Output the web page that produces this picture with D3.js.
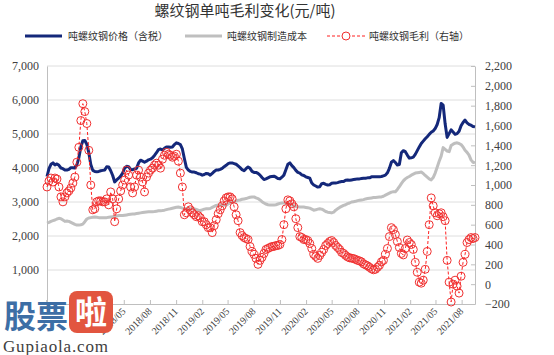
<!DOCTYPE html>
<html><head><meta charset="utf-8">
<script src="https://cdn.jsdelivr.net/npm/d3@7/dist/d3.min.js"></script>
<style>body{margin:0;background:#fff}svg{display:block}</style>
</head><body><svg id="c" width="554" height="355"></svg>
<script>
const title = "螺纹钢单吨毛利变化(元/吨)";
const seriesNames = ["吨螺纹钢价格（含税）", "吨螺纹钢制造成本", "吨螺纹钢毛利（右轴）"];
const startDate = "2017-08-04"; // weekly observations
const xTickDates = ["2017/08","2017/11","2018/02","2018/05","2018/08","2018/11","2019/02","2019/05","2019/08","2019/11","2020/02","2020/05","2020/08","2020/11","2021/02","2021/05","2021/08"];
const xTickLabels = ["2018/05","2018/08","2018/11","2019/02","2019/05","2019/08","2019/11","2020/02","2020/05","2020/08","2020/11","2021/02","2021/05","2021/08"];
const leftTicks = [1000,2000,3000,4000,5000,6000,7000];
const rightTicks = [-200,0,200,400,600,800,1000,1200,1400,1600,1800,2000,2200];

const price = [3750,3980,4110,4150,4090,4120,4080,4000,3980,3940,3940,3960,4010,4010,4000,4090,4300,4620,4800,4810,
4700,4450,4100,3930,3900,3890,3900,3920,3930,3940,4040,4030,3920,3780,3590,3650,3700,3760,3850,4000,
4050,4040,3960,3950,3970,3990,4150,4230,4200,4170,4200,4240,4260,4300,4370,4450,4540,4560,4530,4580,
4620,4620,4610,4620,4690,4740,4720,4690,4560,4280,4020,3940,3900,3880,3880,3860,3830,3820,3790,3810,
3840,3830,3790,3840,3900,3940,3940,3960,3990,4040,4080,4130,4150,4150,4130,4110,4060,4010,3950,3920,
3980,4030,3990,3900,3870,3870,3840,3790,3720,3660,3680,3710,3740,3750,3760,3730,3690,3680,3730,3790,
3950,4110,4150,4070,4010,3930,3870,3850,3800,3780,3740,3720,3700,3560,3500,3470,3440,3450,3540,3550,
3520,3500,3510,3550,3560,3560,3570,3590,3600,3600,3640,3650,3640,3650,3660,3670,3680,3680,3690,3700,
3700,3710,3710,3740,3740,3740,3740,3740,3750,3770,3790,3860,3990,4170,4220,4160,4090,4100,4450,4510,
4480,4380,4290,4300,4320,4400,4510,4620,4720,4790,4860,4920,4990,5050,5090,5160,5280,5480,5900,5850,
5300,4900,5010,5120,5060,4990,5010,5080,5240,5340,5410,5330,5280,5260,5220,5210];

const cost = [2380,2400,2430,2450,2470,2500,2520,2510,2470,2430,2440,2430,2400,2370,2340,2320,2320,2330,2350,2420,
2500,2530,2540,2550,2560,2550,2540,2540,2540,2540,2540,2550,2560,2570,2580,2590,2600,2600,2600,2610,
2620,2630,2640,2645,2650,2660,2670,2680,2690,2700,2705,2710,2710,2715,2720,2730,2740,2745,2750,2760,
2775,2790,2800,2815,2830,2845,2850,2840,2820,2800,2800,2800,2800,2800,2800,2780,2760,2750,2770,2790,
2800,2800,2810,2840,2870,2900,2910,2910,2910,2910,2910,2940,2970,3000,3010,3030,3050,3060,3080,3090,
3100,3120,3140,3150,3150,3120,3100,3060,3010,2970,2940,2920,2910,2910,2910,2920,2940,2960,2970,2970,
2960,2950,2930,2910,2890,2870,2860,2850,2850,2850,2840,2830,2820,2790,2760,2770,2790,2800,2790,2760,
2720,2700,2690,2680,2700,2760,2800,2840,2870,2900,2920,2950,2970,3000,3010,3020,3040,3050,3060,3070,
3090,3100,3110,3120,3130,3135,3140,3145,3150,3170,3200,3230,3260,3290,3300,3300,3370,3450,3540,3620,
3680,3720,3750,3790,3820,3850,3860,3870,3880,3840,3780,3730,3680,3650,3720,3850,4020,4200,4350,4600,
4550,4500,4480,4660,4700,4730,4740,4720,4690,4620,4520,4460,4380,4240,4170,4150];

const profit = [980,1040,1070,1030,1070,1060,980,880,830,880,920,940,970,1020,1080,1230,1380,1650,1820,1740,
1620,1350,1000,750,760,830,840,840,830,830,860,800,930,860,630,760,860,940,1000,1050,
1150,1100,980,920,980,1100,1150,1080,1030,930,1080,1120,1150,1170,1200,1220,1200,1170,1260,1300,
1330,1310,1300,1280,1290,1310,1240,1120,980,700,720,780,750,720,700,680,690,670,630,630,
600,570,570,520,590,650,710,750,790,840,870,880,880,860,780,700,640,520,490,470,
460,450,380,330,300,260,200,240,270,310,350,360,370,380,380,390,390,400,450,600,
760,850,840,810,780,660,570,480,470,450,450,440,410,360,300,280,260,290,320,350,
390,410,430,440,420,390,370,350,320,310,290,275,265,262,258,250,240,235,225,205,
195,185,170,155,145,150,170,190,225,240,300,360,480,570,550,500,430,370,310,295,
360,445,420,400,350,220,120,20,10,40,150,330,600,870,790,720,690,710,720,680,
640,240,20,-180,0,40,-20,-90,80,220,300,420,450,470,460,470];

const plot = {l: 47, r: 475, t: 66, b: 304};
const svg = d3.select("#c");
const parseDay = d3.timeParse("%Y-%m-%d");
const parseMonth = d3.timeParse("%Y/%m");
const d0 = parseDay(startDate);
const dates = price.map((_, i) => d3.timeDay.offset(d0, 7 * i));

const x = d3.scaleTime().domain([dates[0], dates[dates.length - 1]]).range([plot.l, plot.r]);
const yL = d3.scaleLinear().domain([0, 7000]).range([plot.b, plot.t]);
const yR = d3.scaleLinear().domain([-200, 2200]).range([plot.b, plot.t]);

const serif = "'Liberation Serif','Times New Roman',serif";
const cjk = "'Noto Sans CJK SC','Noto Sans',sans-serif";

// gridlines
svg.append("g").selectAll("line").data(leftTicks).join("line")
  .attr("x1", plot.l).attr("x2", plot.r)
  .attr("y1", d => yL(d)).attr("y2", d => yL(d))
  .attr("stroke", "#dedede").attr("stroke-width", 1);

// left axis
const gL = svg.append("g").attr("transform", `translate(${plot.l},0)`)
  .call(d3.axisLeft(yL).tickValues(leftTicks).tickFormat(d3.format(",")).tickSize(0).tickPadding(8));
gL.select(".domain").attr("stroke", "#bfbfbf");
gL.selectAll("text").attr("font-family", serif).attr("font-size", 12).attr("fill", "#404040");

// right axis
const gR = svg.append("g").attr("transform", `translate(${plot.r},0)`)
  .call(d3.axisRight(yR).tickValues(rightTicks).tickFormat(d3.format(",")).tickSize(0).tickPadding(10));
gR.select(".domain").attr("stroke", "#bfbfbf");
gR.selectAll("text").attr("font-family", serif).attr("font-size", 12).attr("fill", "#404040");
gR.selectAll(".tick").append("line").attr("x1", -4).attr("x2", 0).attr("stroke", "#bfbfbf");

// bottom axis
const xTicks = xTickDates.map(parseMonth);
const shown = new Set(xTickLabels);
const fmt = d3.timeFormat("%Y/%m");
const gB = svg.append("g").attr("transform", `translate(0,${plot.b})`)
  .call(d3.axisBottom(x).tickValues(xTicks).tickFormat(d => shown.has(fmt(d)) ? fmt(d) : "").tickSizeInner(-4).tickSizeOuter(0));
gB.select(".domain").attr("stroke", "#bfbfbf");
gB.selectAll(".tick line").attr("stroke", "#bfbfbf");
gB.selectAll("text").attr("font-family", serif).attr("font-size", 10).attr("fill", "#404040")
  .attr("text-anchor", "end").attr("dx", 0).attr("dy", 0)
  .attr("transform", "translate(2,8) rotate(-45)").attr("y", 0);

// lines
const lineL = vals => d3.line().x((d, i) => x(dates[i])).y(d => yL(d))(vals);
svg.append("path").attr("d", lineL(price)).attr("fill", "none").attr("stroke", "#14287a").attr("stroke-width", 3).attr("stroke-linejoin", "round");
svg.append("path").attr("d", lineL(cost)).attr("fill", "none").attr("stroke", "#bfbfbf").attr("stroke-width", 3).attr("stroke-linejoin", "round");
const lineR = d3.line().x((d, i) => x(dates[i])).y(d => yR(d));
svg.append("path").attr("d", lineR(profit)).attr("fill", "none").attr("stroke", "#ff2020").attr("stroke-width", 1).attr("stroke-dasharray", "3,2");
svg.append("g").selectAll("circle").data(profit).join("circle")
  .attr("cx", (d, i) => x(dates[i])).attr("cy", d => yR(d)).attr("r", 4)
  .attr("fill", "none").attr("stroke", "#f03030").attr("stroke-width", 1);

// title
svg.append("text").attr("x", 245).attr("y", 16).attr("text-anchor", "middle")
  .attr("font-family", cjk).attr("font-size", 15).attr("fill", "#333").text(title);

// legend
const lg = svg.append("g").attr("font-family", cjk).attr("font-size", 10).attr("fill", "#333");
lg.append("line").attr("x1", 25).attr("x2", 62).attr("y1", 36).attr("y2", 36).attr("stroke", "#14287a").attr("stroke-width", 3);
lg.append("text").attr("x", 68).attr("y", 40).text(seriesNames[0]);
lg.append("line").attr("x1", 185).attr("x2", 222).attr("y1", 36).attr("y2", 36).attr("stroke", "#bfbfbf").attr("stroke-width", 3);
lg.append("text").attr("x", 227).attr("y", 40).text(seriesNames[1]);
lg.append("line").attr("x1", 327).attr("x2", 365).attr("y1", 36).attr("y2", 36).attr("stroke", "#ff2020").attr("stroke-width", 1).attr("stroke-dasharray", "3,2");
lg.append("circle").attr("cx", 346).attr("cy", 36).attr("r", 4).attr("fill", "#fff").attr("stroke", "#f03030");
lg.append("text").attr("x", 369).attr("y", 40).text(seriesNames[2]);

// watermark
const wm = svg.append("g");
wm.append("text").attr("x", 4).attr("y", 328).attr("font-family", cjk).attr("font-weight", "bold")
  .attr("font-size", 32).attr("fill", "#3d6ea5").text("股票");
wm.append("rect").attr("x", 69).attr("y", 291).attr("width", 44).attr("height", 42).attr("rx", 8).attr("fill", "#e2553f");
wm.append("text").attr("x", 91).attr("y", 324).attr("text-anchor", "middle").attr("font-family", cjk)
  .attr("font-weight", "bold").attr("font-size", 32).attr("fill", "#fff").text("啦");
wm.append("text").attr("x", 3).attr("y", 352).attr("font-family", serif).attr("font-size", 17)
  .attr("fill", "#404040").attr("textLength", 105).text("Gupiaola.com");
</script></body></html>
